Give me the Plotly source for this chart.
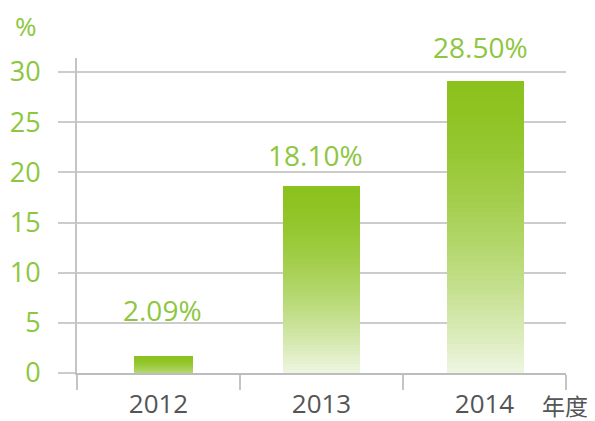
import plotly.graph_objects as go

# ---- data ----
years = ["2012", "2013", "2014"]
growth = [1.6, 18.6, 29.1]          # bar heights (%)
value_labels = ["2.09%", "18.10%", "28.50%"]
y_ticks = [0, 5, 10, 15, 20, 25, 30]
unit_label = "%"
x_title = "年度"

# ---- styling ----
GREEN_TXT = "#8dc63f"
GRAY_TXT = "#555555"
GRID = "#cccccc"
FONT = "Open Sans"
top_rgb = (140, 194, 30)
bottom_rgb = (238, 246, 226)
fade = [0.45, 1.0, 1.0]
widths = [0.362, 0.472, 0.472]
offsets = [-0.150, -0.236, -0.230]
label_yshift = [47, 31, 34]
label_xshift = [4, -6, -4]

N = 60
fig = go.Figure()
for k in range(N):
    t = (k + 0.5) / N
    m = (1 - t) ** 1.6
    colors = []
    for f in fade:
        mm = m * f
        c = tuple(round(top_rgb[i] + mm * (bottom_rgb[i] - top_rgb[i])) for i in range(3))
        colors.append("rgb(%d,%d,%d)" % c)
    fig.add_bar(
        x=years,
        y=[v / N for v in growth],
        width=widths,
        offset=offsets,
        marker=dict(color=colors, line=dict(width=0)),
        hoverinfo="skip",
        showlegend=False,
    )

for i in range(len(years)):
    fig.add_annotation(
        xref="x", yref="y",
        x=i, y=growth[i], text=value_labels[i], showarrow=False,
        yanchor="middle", xanchor="center",
        yshift=label_yshift[i], xshift=label_xshift[i],
        font=dict(family=FONT, size=28, color=GREEN_TXT),
    )

fig.add_annotation(
    xref="paper", yref="paper", x=-0.104, y=1.10, text=unit_label,
    showarrow=False, xanchor="center", yanchor="middle", borderpad=0,
    font=dict(family=FONT, size=26, color=GREEN_TXT),
)
fig.add_annotation(
    xref="paper", yref="paper", x=0.998, y=-0.103, text=x_title,
    showarrow=False, xanchor="center", yanchor="middle", borderpad=0,
    font=dict(family="Noto Sans CJK SC", size=23, color=GRAY_TXT),
)

# the page places the figure 8px in from the top-left corner
fig.update_layout(
    width=587, height=413,
    margin=dict(l=69, r=29, t=50, b=48, autoexpand=False),
    paper_bgcolor="white", plot_bgcolor="white",
    barmode="stack", bargap=0,
    font=dict(family=FONT),
    xaxis=dict(
        type="category", range=[-0.5, 2.5], automargin=False,
        showline=True, linecolor="#bdbdbd", linewidth=2,
        ticks="outside", tickson="boundaries", ticklen=15,
        tickcolor="#c4c4c4", tickwidth=1.5,
        showgrid=False, zeroline=False,
        tickfont=dict(family=FONT, size=26, color=GRAY_TXT),
        ticklabelstandoff=7,
    ),
    yaxis=dict(
        range=[0, 31.4], tickvals=y_ticks, automargin=False,
        showgrid=True, gridcolor=GRID, gridwidth=1.5,
        showline=True, linecolor="#c4c4c4", linewidth=2,
        ticks="outside", ticklen=17, tickcolor=GRID, tickwidth=1.5,
        zeroline=False,
        tickfont=dict(family=FONT, size=27, color=GREEN_TXT),
        ticklabelstandoff=12,
    ),
)

fig.write_html("out.html")
